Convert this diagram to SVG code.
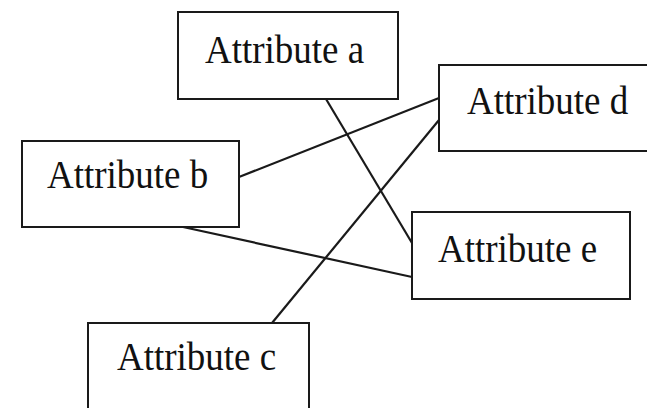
<svg xmlns="http://www.w3.org/2000/svg" width="647" height="408" viewBox="0 0 647 408">
  <style>
    .box { fill: #ffffff; stroke: #1a1a1a; stroke-width: 2; }
    .label { font-family: "Liberation Serif", "Times New Roman", serif; font-size: 37px; fill: #111111; }
    .edge { stroke: #1a1a1a; stroke-width: 2.2; fill: none; }
  </style>
  <rect width="647" height="408" fill="#ffffff"/>

  <g id="connectors">
    <line class="edge" x1="326" y1="99" x2="412" y2="243"/>
    <line class="edge" x1="239" y1="177" x2="439" y2="98"/>
    <line class="edge" x1="272" y1="323" x2="439" y2="120"/>
    <line class="edge" x1="183" y1="227" x2="412" y2="277"/>
  </g>

  <!-- labels are slightly stretched vertically -->
  <g id="attribute-a">
    <rect class="box" x="178" y="12" width="220" height="87"/>
    <text class="label" transform="translate(205 63) scale(1 1.1)">Attribute a</text>
  </g>

  <g id="attribute-d">
    <rect class="box" x="439" y="65" width="220" height="86"/>
    <text class="label" transform="translate(467 114) scale(1 1.1)">Attribute d</text>
  </g>

  <g id="attribute-b">
    <rect class="box" x="22" y="141" width="217" height="86"/>
    <text class="label" transform="translate(47 188) scale(1 1.1)">Attribute b</text>
  </g>

  <g id="attribute-e">
    <rect class="box" x="412" y="212" width="218" height="87"/>
    <text class="label" transform="translate(438 262) scale(1 1.1)">Attribute e</text>
  </g>

  <g id="attribute-c">
    <rect class="box" x="88" y="323" width="221" height="100"/>
    <text class="label" transform="translate(117 370) scale(1 1.1)">Attribute c</text>
  </g>
</svg>
